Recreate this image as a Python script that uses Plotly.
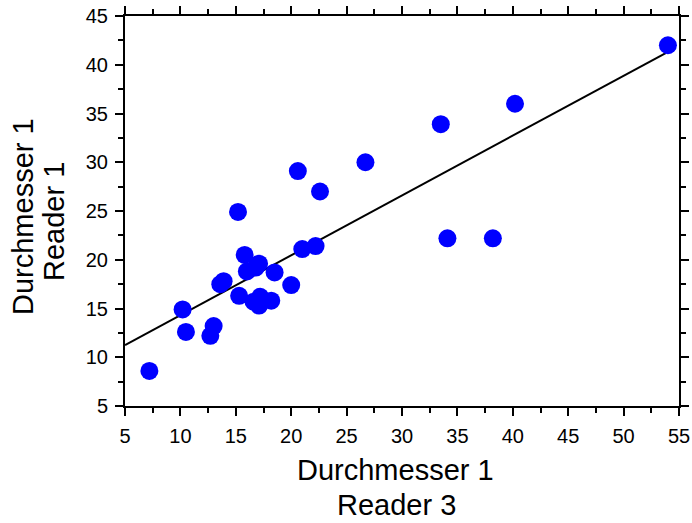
import plotly.graph_objects as go

reader3 = [7.2, 10.2, 10.5, 12.7, 13.0, 13.6, 13.9, 15.2, 15.3, 15.8, 16.0, 16.8, 17.1,
           16.6, 17.1, 17.2, 18.2, 18.5, 20.0, 21.0, 22.2, 20.6, 22.6, 26.7, 33.5, 40.2,
           54.0, 34.1, 38.2]
reader1 = [8.6, 14.9, 12.6, 12.2, 13.2, 17.5, 17.8, 24.9, 16.3, 20.5, 18.8, 19.2, 19.6,
           15.7, 15.3, 16.2, 15.8, 18.7, 17.4, 21.1, 21.4, 29.1, 27.0, 30.0, 33.9, 36.0,
           42.0, 22.2, 22.2]

# regression line end points
fit_x = [5.0, 53.8]
fit_y = [11.25, 41.2]

x_title_lines = ["Durchmesser 1", "Reader 3"]
y_title_lines = ["Durchmesser 1", "Reader 1"]

FONT = "Liberation Sans, Arial"
W, H = 692, 523
ML, MR, MT, MB = 125, 13, 16, 117
PW, PH = W - ML - MR, H - MT - MB


def px_to_paper(px, py):
    return (px - ML) / PW, (H - MB - py) / PH


fig = go.Figure()
fig.add_trace(go.Scatter(x=fit_x, y=fit_y, mode="lines",
                         line=dict(color="black", width=2), showlegend=False))
fig.add_trace(go.Scatter(x=reader3, y=reader1, mode="markers",
                         marker=dict(color="#0000FF", size=18, line=dict(width=0)),
                         showlegend=False))

axis_common = dict(showgrid=False, zeroline=False, showline=True, linecolor="black",
                   linewidth=2, mirror="allticks", ticks="outside", ticklen=8,
                   tickwidth=2, tickcolor="black", automargin=False,
                   ticklabelstandoff=3,
                   tickfont=dict(family=FONT, size=20, color="black"),
                   minor=dict(ticks="outside", ticklen=5, tickwidth=2, tickcolor="black",
                              dtick=2.5, showgrid=False))

fig.update_xaxes(range=[5, 55], dtick=5, tick0=5, **axis_common)
fig.update_yaxes(range=[5, 45], dtick=5, tick0=5, **axis_common)

title_font = dict(family=FONT, size=29, color="black")
annotations = []
for text, (px, py) in zip(x_title_lines, [(395, 470), (396, 505)]):
    ax, ay = px_to_paper(px, py)
    annotations.append(dict(text=text, x=ax, y=ay, xref="paper", yref="paper",
                            xanchor="center", yanchor="middle", showarrow=False,
                            font=title_font))
for text, (px, py) in zip(y_title_lines, [(23, 217), (54, 222)]):
    ax, ay = px_to_paper(px, py)
    annotations.append(dict(text=text, x=ax, y=ay, xref="paper", yref="paper",
                            xanchor="center", yanchor="middle", showarrow=False,
                            textangle=-90, font=title_font))

fig.update_layout(width=W, height=H, plot_bgcolor="white", paper_bgcolor="white",
                  margin=dict(l=ML, r=MR, t=MT, b=MB, autoexpand=False),
                  annotations=annotations)

fig.write_html("out.html")
